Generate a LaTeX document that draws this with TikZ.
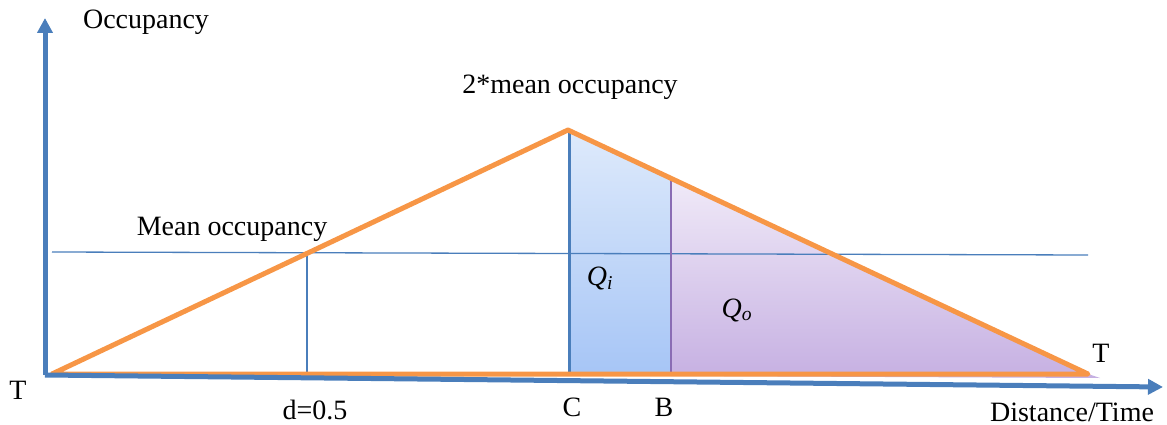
\documentclass[tikz,border=0pt]{standalone}
\usepackage{fontspec}
\setmainfont{Liberation Serif}
\newfontfamily\timesfont{Liberation Serif}
\usetikzlibrary{arrows.meta}

\definecolor{axisblue}{HTML}{4A7EBB}
\definecolor{peakorange}{HTML}{F79646}
\definecolor{edgepurple}{HTML}{8A6CB4}
\definecolor{qitop}{HTML}{DEEAFB}
\definecolor{qibottom}{HTML}{A6C5F6}
\definecolor{qotop}{HTML}{F0EAF8}
\definecolor{qobottom}{HTML}{C6B0E2}

\tikzset{
    axisline/.style={line width=5pt, axisblue, -{Triangle[length=15pt,width=15pt]}},
    thinline/.style={line width=1.3pt, axisblue},
    occline/.style={line width=5pt, peakorange, line join=round},
    lbl/.style={font=\timesfont\fontsize{28}{32}\selectfont, inner sep=0pt},
}

\begin{document}
\begin{tikzpicture}[x=1pt,y=-1pt]
            \useasboundingbox (0,0) rectangle (1167,425);

            \coordinate (o) at (45,375);
            \coordinate (ytip) at (45,18);
            \coordinate (xtip) at (1163,387);

            \coordinate (start) at (52,374);
            \coordinate (peak) at (568,130);
            \coordinate (finish) at (1088,374);

            \coordinate (c) at (569,374);
            \coordinate (ctop) at (569,131);
            \coordinate (b) at (671,376);
            \coordinate (btop) at (671,179);
            \coordinate (qoend) at (1100,378);

            \coordinate (ml) at (52,252);
            \coordinate (mr) at (1088,255);
            \coordinate (dtop) at (307,253);
            \coordinate (dbot) at (307,374);

            \shade[top color=qitop, bottom color=qibottom] (ctop) -- (btop) -- (b) -- (c) -- cycle;
            \shade[top color=qotop, bottom color=qobottom] (btop) -- (finish) -- (qoend) -- (b) -- cycle;

            \draw[thinline] (ml) -- (mr);
            \draw[thinline] (dtop) -- (dbot);
            \draw[line width=1.5pt, edgepurple] (btop) -- (b);
            \draw[line width=3pt, axisblue] (ctop) -- (c);

            \draw[occline] (start) -- (peak) -- (finish) -- cycle;

            \draw[axisline] (o) -- (ytip);
            \draw[axisline] (o) -- (xtip);

            \node[lbl] (ylbl) at (146,22) {Occupancy};
            \node[lbl] (xlbl) at (1072,412) {Distance/Time};
            \node[lbl] (peaklbl) at (570,87) {2*mean occupancy};
            \node[lbl] (meanlbl) at (232,229) {Mean occupancy};
            \node[lbl] (qi) at (600,278) {\textit{Q\textsubscript{i}}};
            \node[lbl] (qo) at (737,310) {\textit{Q\textsubscript{o}}};
            \node[lbl] (tl) at (18,390) {T};
            \node[lbl] (tr) at (1101,353) {T};
            \node[lbl] (dlbl) at (315,410) {d=0.5};
            \node[lbl] (clbl) at (572,407) {C};
            \node[lbl] (blbl) at (664,407) {B};
\end{tikzpicture}
\end{document}
